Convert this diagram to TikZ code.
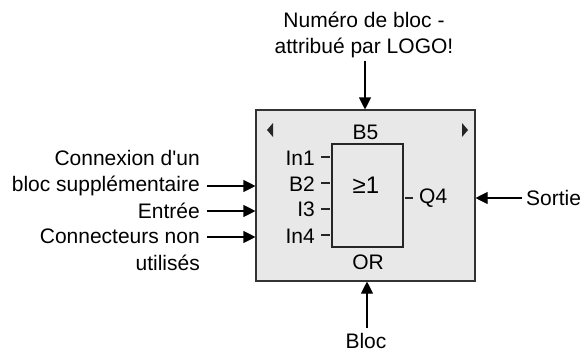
\documentclass[tikz,border=0pt]{standalone}
\usepackage{fontspec}
\setmainfont{Liberation Sans}[Ligatures=TeXOff]
\usetikzlibrary{arrows.meta,positioning}

\begin{document}
\begin{tikzpicture}[x=1pt,y=-1pt,>={Triangle[length=12pt,width=12pt]},
    font=\fontsize{21}{26.5}\selectfont,
    lbl/.style={inner sep=0pt,align=right,anchor=east},
    pin/.style={inner sep=0pt,anchor=east},
    conn/.style={line width=1.1pt,->},
    stub/.style={line width=1.1pt,black!85}]
  \useasboundingbox (0,0) rectangle (581,351);
  \node[draw=black!80,line width=1.1pt,fill=black!9,inner sep=0pt,minimum width=219pt,minimum height=171pt] (blockbox) at (365.5,195.5) {};
  \node[draw=black!85,line width=1.2pt,inner sep=0pt,minimum width=71pt,minimum height=103pt] (gate) at (367.5,195.5) {};
  \node[inner sep=0pt] (geq) at (366,185) {\fontsize{24}{26}\selectfont ≥1};
  \node[inner sep=0pt] (blockno) at (365.5,132) {B5};
  \node[inner sep=0pt] (blocktype) at (368,262) {OR};
  % small triangles in the box
  \fill[black!85] (267,130) -- (273,123) -- (273,137) -- cycle;
  \fill[black!85] (468,130) -- (462,123) -- (462,137) -- cycle;
  % inputs
  \node[pin] (in1) at (315,158) {In1};
  \node[pin] (b2) at (315,184) {B2};
  \node[pin] (i3) at (315,209.5) {I3};
  \node[pin] (in4) at (315,236) {In4};
  \foreach \n/\y in {in1/157,b2/183,i3/209,in4/235}
    \draw[stub] (321,\y)--(330,\y);
  \draw[stub] (405,198)--(413,198);
  \node[inner sep=0pt,anchor=west] (q4) at (419,198) {Q4};
  % labels
  \node[inner sep=0pt,align=center] (numero) at (364,35) {Numéro de bloc -\\attribué par LOGO!};
  \node[lbl] (connexion) at (200,173) {Connexion d'un\\bloc supplémentaire};
  \node[lbl] (entree) at (200,211) {Entrée};
  \node[lbl] (nonused) at (200,250) {Connecteurs non\\utilisés};
  \node[inner sep=0pt,anchor=west] (sortie) at (526,198) {Sortie};
  \node[inner sep=0pt] (bloc) at (366,341) {Bloc};
  % arrows
  \coordinate (a1) at (207,186);
  \coordinate (a2) at (207,211);
  \coordinate (a3) at (207,237);
  \coordinate (a4) at (365,61);
  \coordinate (a5) at (367,328);
  \coordinate (a6) at (522,198);
  \draw[conn] (a1)--(a1-|blockbox.west);
  \draw[conn] (a2)--(a2-|blockbox.west);
  \draw[conn] (a3)--(a3-|blockbox.west);
  \draw[conn] (a4)--(a4|-blockbox.north);
  \draw[conn] (a5)--(a5|-blockbox.south);
  \draw[conn] (a6)--(a6-|blockbox.east);
\end{tikzpicture}
\end{document}
